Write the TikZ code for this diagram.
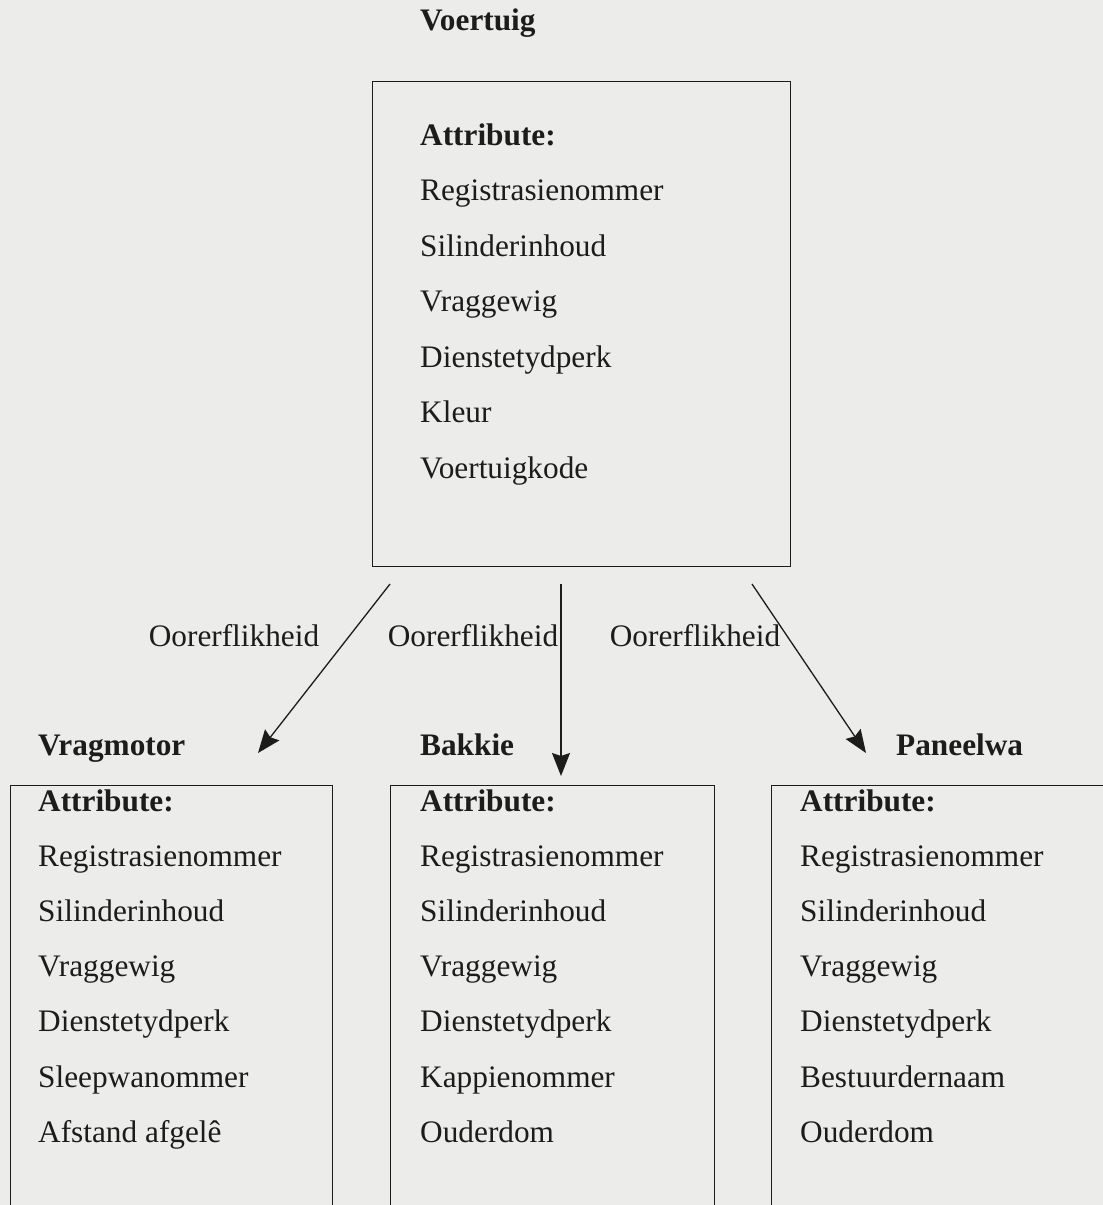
\documentclass[tikz,border=0pt]{standalone}
\usepackage{fontspec}
\setmainfont{Liberation Serif}
\usetikzlibrary{arrows.meta}
\definecolor{paper}{RGB}{236,236,234}
\definecolor{ink}{RGB}{28,28,28}

\begin{document}
\begin{tikzpicture}[x=1pt,y=-1pt,
  txt/.style={anchor=base west, inner sep=0pt, text=ink, font=\fontsize{31.3}{36}\selectfont},
  hdr/.style={txt, font=\fontsize{31.3}{36}\selectfont\bfseries},
  rel/.style={anchor=base, inner sep=0pt, text=ink, font=\fontsize{31.3}{36}\selectfont},
  frame/.style={draw=ink, line width=1.4pt, rectangle, anchor=north west, inner sep=0pt},
  link/.style={draw=ink, line width=1.3pt, -{Stealth[length=23pt,width=18pt,inset=3pt]}}]
\fill[paper] (0,0) rectangle (1103,1205);
\useasboundingbox (0,0) rectangle (1103,1205);
\clip (0,0) rectangle (1103,1205);

% parent entity
\node[hdr] (voertuig) at (420,30) {Voertuig};
\node[frame, minimum width=418pt, minimum height=485pt] (parent) at (372,81) {};
\node[hdr] (pattr) at (420,145) {Attribute:};
\foreach \t [count=\i] in {Registrasienommer, Silinderinhoud, Vraggewig,
    Dienstetydperk, Kleur, Voertuigkode}
  \node[txt] (p\i) at (420,{145+55.5*\i}) {\t};

% child entities (boxes run on past the lower edge)
\node[frame, minimum width=322pt, minimum height=500pt] (boxa) at (10,785) {};
\node[frame, minimum width=324pt, minimum height=500pt] (boxb) at (390,785) {};
\node[frame, minimum width=400pt, minimum height=500pt] (boxc) at (771,785) {};

\node[hdr] (vragmotor) at (38,755) {Vragmotor};
\node[hdr] (bakkie) at (420,755) {Bakkie};
\node[hdr] (paneelwa) at (896,755) {Paneelwa};

\foreach \x/\n/\a/\b in {38/a/Sleepwanommer/Afstand afgelê,
    420/b/Kappienommer/Ouderdom, 800/c/Bestuurdernaam/Ouderdom} {
  \node[hdr] (\n attr) at (\x,811) {Attribute:};
  \foreach \t [count=\i] in {Registrasienommer, Silinderinhoud, Vraggewig,
      Dienstetydperk, \a, \b}
    \node[txt] (\n\i) at (\x,{811+55.2*\i}) {\t};
}

% inheritance links
\coordinate (la) at (390,584);
\coordinate (ta) at (258,753);
\coordinate (lb) at (561,584);
\coordinate (tb) at (561,776);
\coordinate (lc) at (752,584);
\coordinate (tc) at (866,753);
\draw[link] (la) -- (ta);
\draw[link] (lb) -- (tb);
\draw[link] (lc) -- (tc);

\node[rel] (oa) at (234,646) {Oorerflikheid};
\node[rel] (ob) at (473,646) {Oorerflikheid};
\node[rel] (oc) at (695,646) {Oorerflikheid};
\end{tikzpicture}
\end{document}
